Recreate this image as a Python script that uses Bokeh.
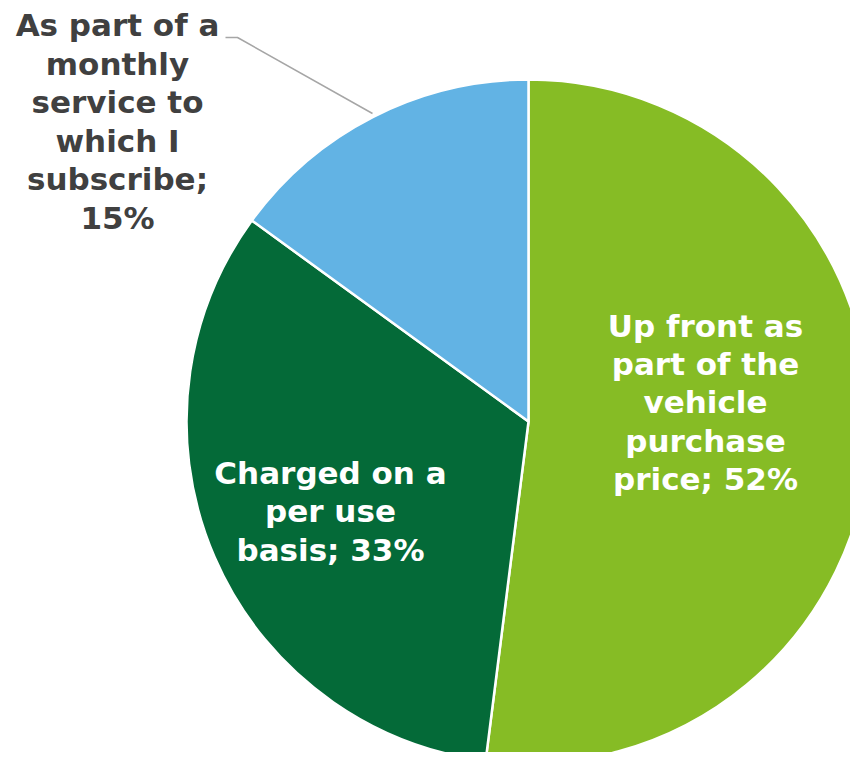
import math
from bokeh.plotting import figure
from bokeh.models import ColumnDataSource
from bokeh.core.properties import value
from bokeh.embed import file_html
from bokeh.resources import INLINE

categories = ["Up front as\npart of the\nvehicle\npurchase\nprice; 52%",
              "Charged on a\nper use\nbasis; 33%",
              "As part of a\nmonthly\nservice to\nwhich I\nsubscribe;\n15%"]
shares = [52, 33, 15]
colors = ["#86BC25", "#046A38", "#62B3E4"]

# fits the 858x760 window inside its 8px margin
W, H = 850, 752
cx, cy = 528, H - 421
R = 342

total = sum(shares)
starts, ends = [], []
acc = 0.0
for s in shares:
    a0 = math.pi / 2 - 2 * math.pi * acc / total
    acc += s
    a1 = math.pi / 2 - 2 * math.pi * acc / total
    starts.append(a0)
    ends.append(a1)

src = ColumnDataSource(dict(x=[cx] * 3, y=[cy] * 3, start=starts, end=ends, color=colors))

p = figure(width=W, height=H, x_range=(0, W), y_range=(0, H),
           output_backend="svg", toolbar_location=None, min_border=0,
           outline_line_color=None, background_fill_color="white")
p.axis.visible = False
p.grid.visible = False

p.wedge(x="x", y="y", radius=R, radius_units="screen", start_angle="start", end_angle="end",
        direction="clock", fill_color="color", line_color="white", line_width=2.5, source=src)

# leader line for the outside label
p.line(x=[225, 237, 372], y=[H - 37, H - 37, H - 113], line_color="#A6A6A6", line_width=1.5)

lab_x = [705, 330, 117]
lab_y = [H - 402, H - 511, H - 121]
lab_col = ["white", "white", "#404040"]
p.text(x=lab_x, y=lab_y, text=categories, text_color=lab_col,
       text_font=value("DejaVu Sans"), text_font_style="bold", text_font_size="31px",
       text_align="center", text_baseline="middle", text_line_height=1.067)

open("out.html", "w").write(file_html(p, INLINE))
